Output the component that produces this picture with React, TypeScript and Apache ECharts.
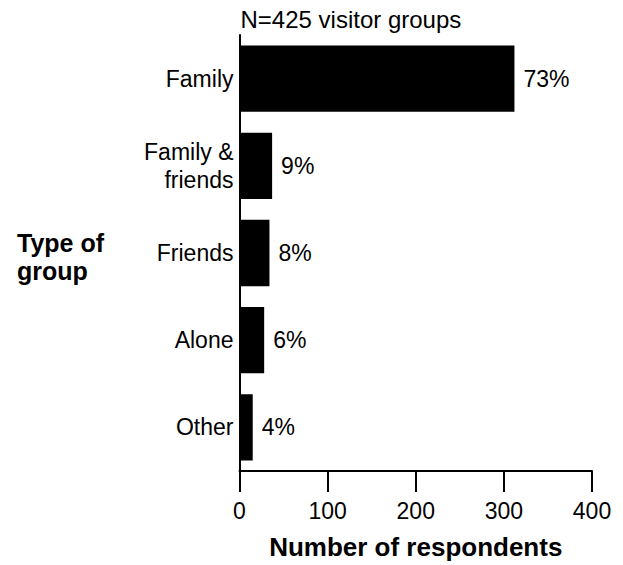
import React, { useEffect, useRef } from "react";
import * as echarts from "echarts";

const categories = ["Family", "Family &\nfriends", "Friends", "Alone", "Other"];
const values = [312, 37, 34, 28, 15];
const percentages = ["73%", "9%", "8%", "6%", "4%"];
const xTicks = { min: 0, max: 400, interval: 100 };
const noteText = "N=425 visitor groups";
const yTitleLines = ["Type of", "group"];
const xTitle = "Number of respondents";

const FONT = "Arial, 'Liberation Sans', sans-serif";

export default function App() {
  const ref = useRef<HTMLDivElement>(null);
  useEffect(() => {
    if (!ref.current) return;
    const chart = echarts.init(ref.current, undefined, { renderer: "svg" });
    chart.setOption({
      animation: false,
      backgroundColor: "#ffffff",
      textStyle: { fontFamily: FONT },
      grid: { left: 239.5, right: 31, top: 35, bottom: 90, containLabel: false },
      xAxis: {
        type: "value",
        min: xTicks.min,
        max: xTicks.max,
        interval: xTicks.interval,
        splitLine: { show: false },
        axisLine: { show: true, lineStyle: { color: "#000", width: 2 } },
        axisTick: { show: true, length: 21, lineStyle: { color: "#000", width: 2 } },
        axisLabel: { color: "#000", fontSize: 23, fontFamily: FONT, margin: 28 },
        name: xTitle,
        nameLocation: "middle",
        nameGap: 63,
        nameTextStyle: { color: "#000", fontSize: 26, fontWeight: "bold", fontFamily: FONT },
      },
      yAxis: {
        type: "category",
        data: categories,
        inverse: true,
        axisLine: { show: true, lineStyle: { color: "#000", width: 2 } },
        axisTick: { show: false },
        axisLabel: { color: "#000", fontSize: 23, fontFamily: FONT, margin: 6, lineHeight: 28, align: "right" },
      },
      series: [
        {
          type: "bar",
          data: values,
          barCategoryGap: "24%",
          itemStyle: { color: "#000" },
          label: {
            show: true,
            position: "right",
            distance: 9,
            color: "#000",
            fontSize: 23,
            fontFamily: FONT,
            formatter: (p: any) => percentages[p.dataIndex],
          },
        },
      ],
      graphic: [
        {
          type: "text",
          left: 240.5,
          top: 7,
          style: { text: noteText, fill: "#000", fontSize: 24, fontFamily: FONT },
        },
        {
          type: "text",
          x: 17,
          y: 257,
          style: {
            text: yTitleLines.join("\n"),
            fill: "#000",
            fontSize: 25,
            lineHeight: 28,
            fontWeight: "bold",
            fontFamily: FONT,
            verticalAlign: "middle",
          },
        },
      ],
    });
    return () => chart.dispose();
  }, []);
  return <div ref={ref} style={{ position: "absolute", left: 0, top: 0, width: 623, height: 565 }} />;
}
